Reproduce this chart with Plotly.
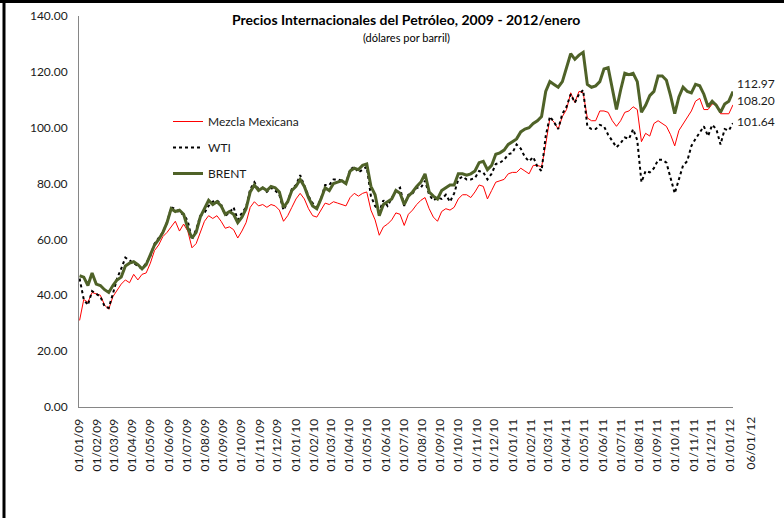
import plotly.graph_objects as go
import pandas as pd

# ---------------- data (weekly readings, Fridays 2009-01-02 .. 2012-01-06) ----------------
dates = pd.date_range("2009-01-02", "2012-01-06", freq="7D")

mezcla = [
    # 2009 H1
    31, 38.5, 37.5, 41, 40.5, 40, 36.5, 35, 39.5, 42, 44, 45.5, 44.5, 47.5, 45.5, 47.5, 48,
    51.5, 56, 58, 61, 62.5, 64.5, 66.5, 63, 65.5,
    # 2009 H2
    63, 57, 58.5, 62.5, 66.5, 68.5, 67.5, 68.5, 66.5, 64, 64.5, 63.5, 60.5, 63, 66, 71.5, 73.5, 72,
    72.5, 71.5, 72.5, 72, 70.5, 66.5, 68.5, 71.5,
    # 2010 H1
    74.5, 76.5, 74.5, 71, 68.5, 68, 70.5, 73, 72.5, 73.5, 73, 72.5, 72, 75, 76.5, 75.5, 76.5, 77,
    70.5, 67, 61.5, 64.5, 65.5, 67, 69.5, 69,
    # 2010 H2
    65, 69, 70.5, 72.5, 74, 75, 71, 68, 66.5, 70, 71, 70.5, 71.5, 74.5, 76, 76, 75, 77,
    79.5, 79, 74.5, 77.5, 80.5, 81, 81.5, 83.5, 84,
    # 2011 H1
    84, 85.5, 84.5, 83.5, 86.5, 86.5, 86, 94, 103.5, 102, 99.5, 104, 106.5, 112.5, 109, 113, 112.5,
    103.5, 102.5, 102.5, 106, 106, 105.5, 102.5, 100.5,
    # 2011 H2
    102.5, 105.5, 106, 107.5, 106.5, 95, 98, 97, 101.5, 102.5, 101.5, 100.5, 97.5, 93.5,
    99, 101.5, 104, 106, 109.5, 110.5, 106.5, 106.5, 108.5, 108.5, 105, 105, 105,
    # 2012
    108.20,
]

wti = [
    # 2009 H1
    46, 38.5, 36.5, 41.5, 40.5, 39.5, 36, 35.5, 40.5, 46, 49.5, 53.5, 52.5, 51.5, 50.5, 49.5, 51.5,
    54, 58.5, 60.5, 62.5, 66, 71.5, 71, 69.5, 69,
    # 2009 H2
    66.5, 60, 63.5, 68.5, 69.5, 72, 73.5, 74, 72.5, 68.5, 69.5, 71.5, 67, 69.5, 71.5, 78, 80.5, 78,
    78.5, 77, 78.5, 77.5, 76, 70.5, 73.5, 78,
    # 2010 H1
    79.5, 83, 79.5, 75.5, 73, 71.5, 74.5, 79.5, 79.5, 81.5, 81.5, 81, 80, 85, 86, 84, 85, 86,
    75.5, 72, 70, 74, 72, 74.5, 77.5, 78.5,
    # 2010 H2
    72, 76, 76.5, 78.5, 78.5, 81, 76, 74, 75, 74.5, 76, 73.5, 76.5, 81.5, 82.5, 81.5, 81.5, 82,
    84.5, 84, 81.5, 83.5, 87, 87.5, 88.5, 90.5, 91,
    # 2011 H1
    94, 92.5, 89.5, 88, 89.5, 86, 84.5, 97, 104, 102, 99.5, 105, 107.5, 112, 109, 112, 113.5,
    100.5, 99.5, 99.5, 101, 100.5, 97.5, 95, 93,
    # 2011 H2
    94.5, 96.5, 96, 99.5, 95.5, 80.5, 84.5, 84, 85.5, 88.5, 88.5, 87.5, 82, 76.5,
    81.5, 86.5, 88, 93.5, 96, 98.5, 100.5, 97, 101, 99.5, 94, 99.5, 99,
    # 2012
    101.64,
]

brent = [
    # 2009 H1
    47, 46.5, 43.5, 48, 44, 43.5, 42, 41, 43.5, 45.5, 46.5, 50.5, 51.5, 52, 51, 49.5, 51,
    54.5, 58, 60, 62.5, 66, 71, 70, 70.5, 69,
    # 2009 H2
    64, 60.5, 62.5, 68, 71, 74, 72.5, 73.5, 72, 69, 70, 69, 66, 68, 71, 77, 79.5, 77.5,
    78.5, 77.5, 79, 78.5, 77, 71.5, 73.5, 77.5,
    # 2010 H1
    79, 81.5, 79, 75, 72, 71, 74.5, 78.5, 77.5, 80, 80.5, 81, 80, 84.5, 85.5, 85, 86.5, 87,
    79, 76, 68.5, 72.5, 73.5, 74.5, 77.5, 76.5,
    # 2010 H2
    72.5, 75.5, 77, 79, 80.5, 83.5, 77, 75.5, 74.5, 77.5, 78.5, 79.5, 79.5, 83.5, 83.5, 83, 83.5, 84.5,
    87.5, 88, 85, 86.5, 90.5, 91, 92, 94, 95,
    # 2011 H1
    96, 98.5, 99.5, 100, 101.5, 102.5, 104, 113, 116.5, 115.5, 114.5, 116.5, 121.5, 126.5, 124.5, 126, 127,
    115.5, 114.5, 115, 116.5, 121, 121.5, 113.5, 106.5,
    # 2011 H2
    113.5, 119.5, 119, 119.5, 116.5, 105.5, 108, 111.5, 113, 118.5, 118.5, 117, 111.5, 105,
    111, 114.5, 113, 112.5, 115.5, 115, 112, 107.5, 109.5, 108, 105.5, 108.5, 109.5,
    # 2012
    112.97,
]

series_names = ["Mezcla Mexicana", "WTI", "BRENT"]
tick_dates = pd.date_range("2009-01-01", "2012-01-01", freq="MS")
tick_labels = [d.strftime("%d/%m/%y") for d in tick_dates]
extra_tick_label = "06/01/12"
y_ticks = [0, 20, 40, 60, 80, 100, 120, 140]

# ---------------- layout helpers ----------------
W, H = 784, 518
L, R, T, B = 79, 51, 16, 111
PW, PH = W - L - R, H - T - B


def px(x):
    return (x - L) / PW


def py(y):
    return (H - B - y) / PH


FONT = "Lato, 'Open Sans', sans-serif"

fig = go.Figure()
fig.add_trace(go.Scatter(x=dates, y=mezcla, mode="lines", name=series_names[0],
                         legendgroup="g1", line=dict(color="#FF0000", width=1)))
fig.add_trace(go.Scatter(x=dates, y=wti, mode="lines", name=series_names[1],
                         legendgroup="g2", line=dict(color="#000000", width=2, dash="dot")))
fig.add_trace(go.Scatter(x=dates, y=brent, mode="lines", name=series_names[2],
                         legendgroup="g3", line=dict(color="#4F6228", width=3)))

annotations = [
    dict(text="<b>Precios Internacionales del Petróleo, 2009 - 2012/enero</b>",
         xref="paper", yref="paper", x=px(406), y=py(20), xanchor="center", yanchor="middle",
         showarrow=False, font=dict(size=14, color="#000000")),
    dict(text="(dólares por barril)",
         xref="paper", yref="paper", x=px(406), y=py(38), xanchor="center", yanchor="middle",
         showarrow=False, font=dict(size=11, color="#000000")),
    dict(text=extra_tick_label, textangle=-90,
         xref="paper", yref="paper", x=px(750), y=py(415), xanchor="center", yanchor="top",
         showarrow=False, font=dict(size=12, color="#1a1a1a")),
]
for vals, ysh in ((brent, 7.5), (mezcla, 4), (wti, 1.5)):
    annotations.append(dict(text=f"{vals[-1]:.2f}", x=dates[-1], y=vals[-1], xref="x", yref="y",
                            xanchor="left", yanchor="middle", xshift=2, yshift=ysh,
                            showarrow=False, font=dict(size=12, color="#1a1a1a")))

fig.update_layout(
    width=W, height=H,
    margin=dict(l=L, r=R, t=T, b=B, pad=0, autoexpand=False),
    paper_bgcolor="white", plot_bgcolor="white",
    font=dict(family=FONT, size=12, color="#1a1a1a"),
    showlegend=True,
    legend=dict(x=px(168), y=py(107), xanchor="left", yanchor="top",
                bgcolor="rgba(0,0,0,0)", font=dict(size=12, color="#1a1a1a"),
                tracegroupgap=7, itemwidth=30),
    annotations=annotations,
    shapes=[
        dict(type="line", xref="paper", yref="paper", x0=px(4), x1=px(4), y0=py(0), y1=py(H),
             line=dict(color="black", width=3)),
        dict(type="line", xref="paper", yref="paper", x0=px(0), x1=px(W), y0=py(1.5), y1=py(1.5),
             line=dict(color="black", width=3)),
    ],
    xaxis=dict(type="date", range=["2009-01-01", "2012-01-06"], automargin=False,
               tickmode="array", tickvals=tick_dates, ticktext=tick_labels, tickangle=-90,
               showline=True, linecolor="#868686", linewidth=1, showgrid=False, zeroline=False,
               ticks="", ticklabelstandoff=6, tickfont=dict(size=12, color="#1a1a1a")),
    yaxis=dict(range=[0, 140], tickmode="array", tickvals=y_ticks, tickformat=".2f", automargin=False,
               showline=True, linecolor="#868686", linewidth=1, showgrid=False, zeroline=False,
               ticks="", ticklabelstandoff=8, tickfont=dict(size=12, color="#1a1a1a")),
)

fig.write_html("out.html", config={"displayModeBar": False},
               post_script="document.body.style.margin='0';document.body.style.overflow='hidden';")
